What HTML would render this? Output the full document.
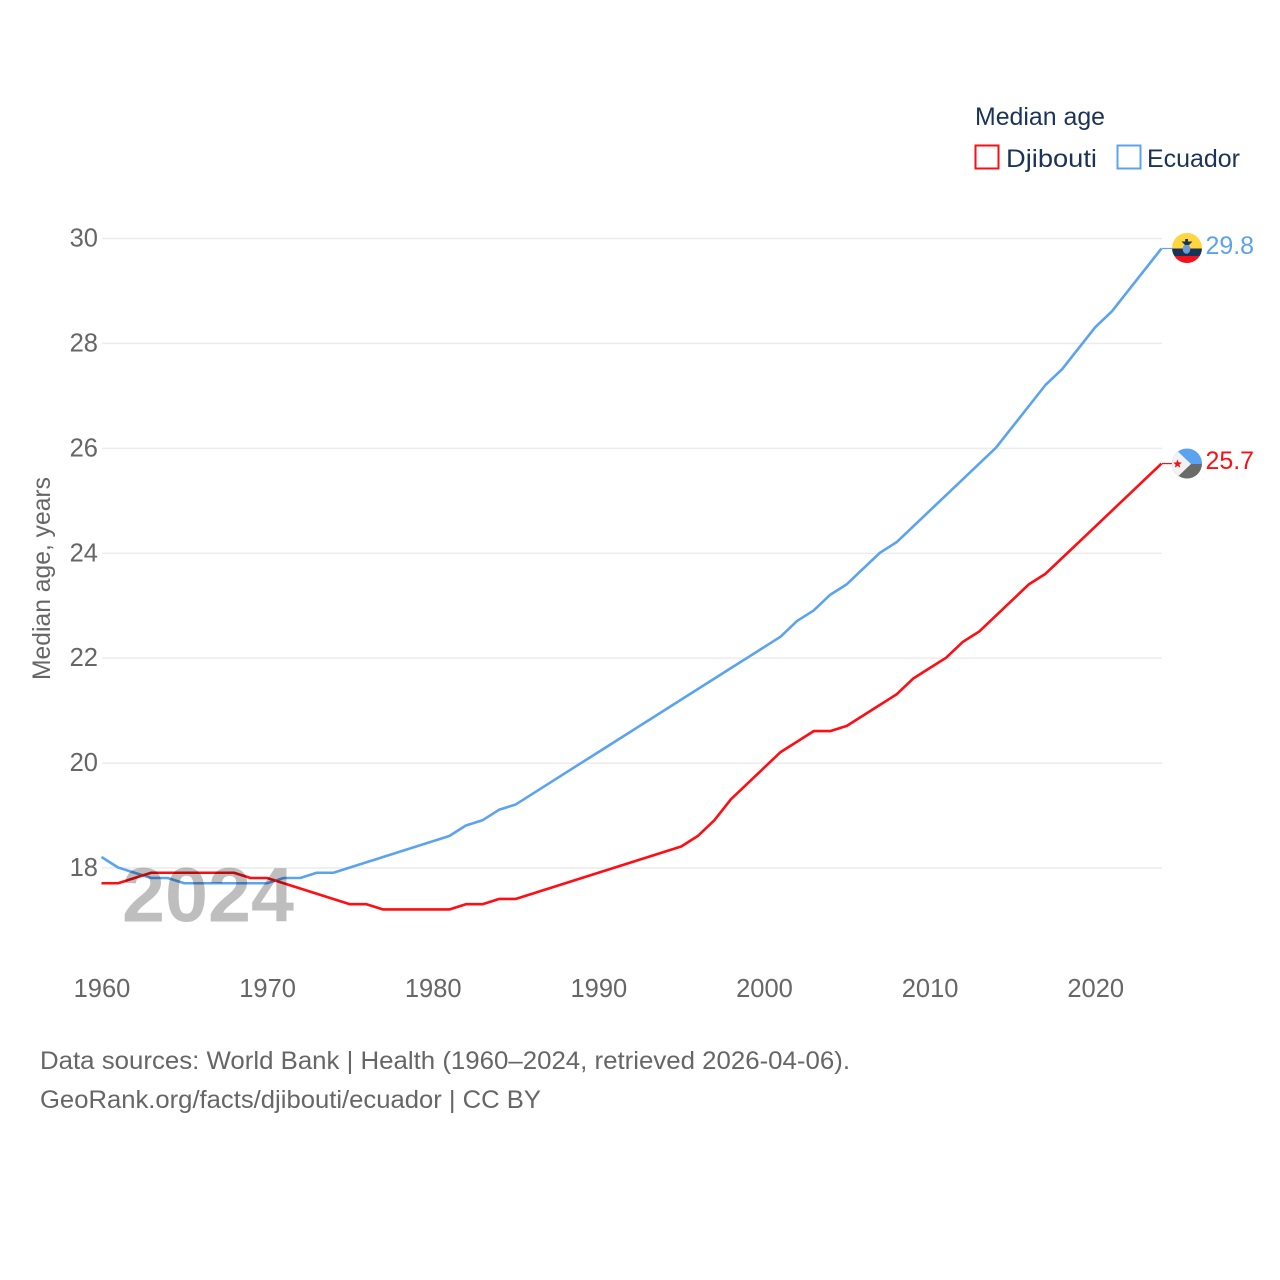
<!DOCTYPE html>
<html lang="en">
<head>
<meta charset="utf-8">
<title>Median age: Djibouti and Ecuador</title>
<style>
html,body{margin:0;padding:0;background:#fff;width:1280px;height:1280px;overflow:hidden}
svg{display:block}
text{font-family:"Liberation Sans",sans-serif}
</style>
</head>
<body>
<svg id="chart" width="1280" height="1280" viewBox="0 0 1280 1280" xmlns="http://www.w3.org/2000/svg">
  <rect width="1280" height="1280" fill="#fff"/>
  <g id="grid"></g>
  <g id="yticks"></g>
  <g id="xticks"></g>
  <text transform="translate(50,680) rotate(-90)" font-size="25" fill="#666" textLength="203" lengthAdjust="spacingAndGlyphs">Median age, years</text>
  <g id="series" transform="translate(-0.5,-0.5)"></g>
  <text x="122" y="921.5" font-size="77" font-weight="700" fill="#000" opacity="0.25" textLength="172" lengthAdjust="spacingAndGlyphs">2024</text>

  <text x="975" y="125" font-size="25" fill="#1b3358" textLength="130" lengthAdjust="spacingAndGlyphs">Median age</text>
  <rect x="975.5" y="145.5" width="23" height="23" fill="#fff" stroke="#ff0d12" stroke-width="2"/>
  <text x="1006" y="167" font-size="25" fill="#1b3358" textLength="91" lengthAdjust="spacingAndGlyphs">Djibouti</text>
  <rect x="1117.5" y="145.5" width="23" height="23" fill="#fff" stroke="#5ba3ef" stroke-width="2"/>
  <text x="1147" y="167" font-size="25" fill="#1b3358" textLength="93" lengthAdjust="spacingAndGlyphs">Ecuador</text>

  <defs>
    <clipPath id="clip-ec"><circle cx="1187" cy="248" r="15"/></clipPath>
    <clipPath id="clip-dj"><circle cx="1187" cy="463.5" r="15"/></clipPath>
  </defs>
  <g id="end-markers"></g>
  <g clip-path="url(#clip-ec)">
    <rect x="1170" y="232" width="34" height="16.5" fill="#ffd63f"/>
    <rect x="1170" y="248.5" width="34" height="7.5" fill="#1b3358"/>
    <rect x="1170" y="256" width="34" height="8" fill="#f4101a"/>
    <ellipse cx="1186.5" cy="249" rx="3.8" ry="4.8" fill="#6c9ed4"/>
    <path d="M1181.5 241.5h11l-3.5 3.5h-4z" fill="#1b3358"/>
    <rect x="1185.2" y="239" width="2.8" height="6" fill="#1b3358"/>
  </g>
  <g clip-path="url(#clip-dj)">
    <rect x="1170" y="448" width="34" height="16" fill="#5ba3ef"/>
    <rect x="1170" y="464" width="34" height="16" fill="#6a6a68"/>
    <path d="M1168 442 L1191 464 L1168 486 Z" fill="#f2f2f2"/>
    <path d="M1177.5 459.5l1.2 2.9 3.1.2-2.4 2 .8 3-2.7-1.7-2.7 1.7.8-3-2.4-2 3.1-.2z" fill="#f4101a"/>
  </g>
  <text id="end-ecuador" x="1205.5" y="254" font-size="25" fill="#5ba3ef" textLength="48.5" lengthAdjust="spacingAndGlyphs"></text>
  <text id="end-djibouti" x="1205.5" y="469" font-size="25" fill="#ff0d12" textLength="48.5" lengthAdjust="spacingAndGlyphs"></text>

  <text x="40" y="1069" font-size="25" fill="#666" textLength="810" lengthAdjust="spacingAndGlyphs">Data sources: World Bank | Health (1960–2024, retrieved 2026-04-06).</text>
  <text x="40" y="1108" font-size="25" fill="#666" textLength="501" lengthAdjust="spacingAndGlyphs">GeoRank.org/facts/djibouti/ecuador | CC BY</text>
</svg>
<script>
const startYear = 1960;
const xTickYears = [1960, 1970, 1980, 1990, 2000, 2010, 2020];
const yTickValues = [18, 20, 22, 24, 26, 28, 30];
const djibouti = [17.7,17.7,17.8,17.9,17.9,17.9,17.9,17.9,17.9,17.8,17.8,17.7,17.6,17.5,17.4,17.3,17.3,17.2,17.2,17.2,17.2,17.2,17.3,17.3,17.4,17.4,17.5,17.6,17.7,17.8,17.9,18.0,18.1,18.2,18.3,18.4,18.6,18.9,19.3,19.6,19.9,20.2,20.4,20.6,20.6,20.7,20.9,21.1,21.3,21.6,21.8,22.0,22.3,22.5,22.8,23.1,23.4,23.6,23.9,24.2,24.5,24.8,25.1,25.4,25.7];
const ecuador = [18.2,18.0,17.9,17.8,17.8,17.7,17.7,17.7,17.7,17.7,17.7,17.8,17.8,17.9,17.9,18.0,18.1,18.2,18.3,18.4,18.5,18.6,18.8,18.9,19.1,19.2,19.4,19.6,19.8,20.0,20.2,20.4,20.6,20.8,21.0,21.2,21.4,21.6,21.8,22.0,22.2,22.4,22.7,22.9,23.2,23.4,23.7,24.0,24.2,24.5,24.8,25.1,25.4,25.7,26.0,26.4,26.8,27.2,27.5,27.9,28.3,28.6,29.0,29.4,29.8];

const NS = 'http://www.w3.org/2000/svg';
const xScale = function (year) { return 102 + (year - 1960) * (1162 - 102) / 64; };
const yScale = function (v) { return 868 - (v - 18) * (868 - 238.5) / 12; };

const grid = document.getElementById('grid');
const yticks = document.getElementById('yticks');
const xticks = document.getElementById('xticks');
const series = document.getElementById('series');
const endMarkers = document.getElementById('end-markers');

yTickValues.forEach(function (v) {
  const line = document.createElementNS(NS, 'line');
  
  
  line.setAttribute('x1', xScale(1960));
  line.setAttribute('x2', xScale(2024));
  line.setAttribute('y1', yScale(v));
  line.setAttribute('y2', yScale(v));
  line.setAttribute('stroke', '#ececec');
  line.setAttribute('stroke-width', '1.5');
  grid.appendChild(line);

  const label = document.createElementNS(NS, 'text');
  
  
  label.setAttribute('x', 98);
  label.setAttribute('y', yScale(v) + 8);
  label.setAttribute('text-anchor', 'end');
  label.setAttribute('font-size', '25.5');
  label.setAttribute('fill', '#666');
  label.textContent = v;
  yticks.appendChild(label);
});

xTickYears.forEach(function (year) {
  const label = document.createElementNS(NS, 'text');
  
  
  label.setAttribute('x', xScale(year));
  label.setAttribute('y', 997);
  label.setAttribute('text-anchor', 'middle');
  label.setAttribute('font-size', '25.5');
  label.setAttribute('fill', '#666');
  label.textContent = year;
  xticks.appendChild(label);
});

function pointsFor(values) {
  return values.map(function (v, i) {
    return xScale(startYear + i).toFixed(2) + ',' + yScale(v).toFixed(2);
  }).join(' ');
}

const ecuadorLine = document.createElementNS(NS, 'polyline');


ecuadorLine.setAttribute('points', pointsFor(ecuador));
ecuadorLine.setAttribute('fill', 'none');
ecuadorLine.setAttribute('stroke', '#5ba3ef');
ecuadorLine.setAttribute('stroke-width', '2.6');
ecuadorLine.setAttribute('stroke-linejoin', 'round');
series.appendChild(ecuadorLine);

const djiboutiLine = document.createElementNS(NS, 'polyline');


djiboutiLine.setAttribute('points', pointsFor(djibouti));
djiboutiLine.setAttribute('fill', 'none');
djiboutiLine.setAttribute('stroke', '#ff0d12');
djiboutiLine.setAttribute('stroke-width', '2.6');
djiboutiLine.setAttribute('stroke-linejoin', 'round');
series.appendChild(djiboutiLine);

const lastEcuador = ecuador[ecuador.length - 1];
const lastDjibouti = djibouti[djibouti.length - 1];

const connectorEcuador = document.createElementNS(NS, 'line');


connectorEcuador.setAttribute('x1', xScale(2024));
connectorEcuador.setAttribute('x2', xScale(2024) + 10);
connectorEcuador.setAttribute('y1', yScale(lastEcuador) - 0.5);
connectorEcuador.setAttribute('y2', yScale(lastEcuador) - 0.5);
connectorEcuador.setAttribute('stroke', '#5ba3ef');
connectorEcuador.setAttribute('stroke-width', '1.2');
endMarkers.appendChild(connectorEcuador);

const connectorDjibouti = document.createElementNS(NS, 'line');


connectorDjibouti.setAttribute('x1', xScale(2024));
connectorDjibouti.setAttribute('x2', xScale(2024) + 10);
connectorDjibouti.setAttribute('y1', yScale(lastDjibouti) - 0.5);
connectorDjibouti.setAttribute('y2', yScale(lastDjibouti) - 0.5);
connectorDjibouti.setAttribute('stroke', '#ff0d12');
connectorDjibouti.setAttribute('stroke-width', '1.2');
endMarkers.appendChild(connectorDjibouti);

document.getElementById('end-ecuador').textContent = lastEcuador.toFixed(1);
document.getElementById('end-djibouti').textContent = lastDjibouti.toFixed(1);
</script>
</body>
</html>
